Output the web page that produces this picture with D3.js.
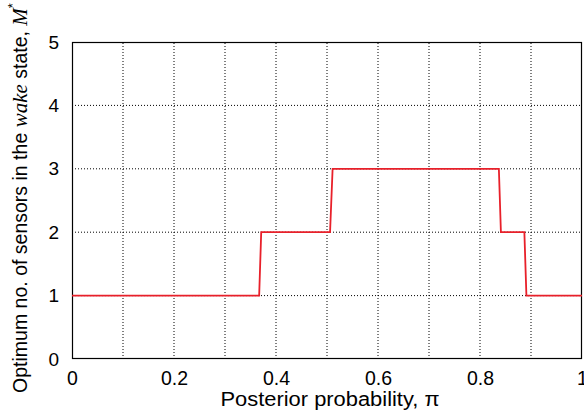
<!DOCTYPE html>
<html><head><meta charset="utf-8">
<script src="https://cdn.jsdelivr.net/npm/d3@7"></script>
<style>body{margin:0;background:#fff}svg{display:block}</style>
</head><body>
<svg id="c" width="584" height="417"></svg>
<script>
const piValues = [0, 0.367, 0.371, 0.506, 0.511, 0.837, 0.841, 0.887, 0.891, 1];
const mValues  = [1, 1, 2, 2, 3, 3, 2, 2, 1, 1];
const xTickLabels = [0, 0.2, 0.4, 0.6, 0.8, 1];
const yTickLabels = [0, 1, 2, 3, 4, 5];

const svg = d3.select("#c");
const L = 72, R = 582, T = 42, B = 359;
const x = d3.scaleLinear().domain([0, 1]).range([L, R]);
const y = d3.scaleLinear().domain([0, 5]).range([B, T]);
const font = "Liberation Sans, Arial, Helvetica, sans-serif";

// grid
const gx = d3.range(1, 10).map(i => i / 10);
svg.append("g").selectAll("line").data(gx).join("line")
  .attr("x1", d => x(d)).attr("x2", d => x(d)).attr("y1", B).attr("y2", T)
  .attr("stroke", "#000").attr("stroke-width", 1).attr("stroke-dasharray", "1,2");
svg.append("g").selectAll("line").data([1,2,3,4]).join("line")
  .attr("y1", d => y(d)).attr("y2", d => y(d)).attr("x1", L).attr("x2", R)
  .attr("stroke", "#000").attr("stroke-width", 1).attr("stroke-dasharray", "1,2");

// axes
const xAxis = d3.axisBottom(x).tickValues(xTickLabels).tickFormat(d3.format("")).tickSize(0).tickPadding(12);
const gxA = svg.append("g").attr("transform", `translate(0,${B})`).call(xAxis);
gxA.select(".domain").remove();
gxA.selectAll("text").attr("font-family", font).attr("font-size", 19.5).attr("fill", "#000").attr("dy", "0.7em");

const yAxis = d3.axisLeft(y).tickValues(yTickLabels).tickFormat(d3.format("d")).tickSize(0).tickPadding(13);
const gyA = svg.append("g").attr("transform", `translate(${L},0)`).call(yAxis);
gyA.select(".domain").remove();
gyA.selectAll("text").attr("font-family", font).attr("font-size", 19).attr("fill", "#000");

// frame
svg.append("rect").attr("x", L + 0.5).attr("y", T + 0.5).attr("width", R - L - 1).attr("height", B - T - 1)
  .attr("fill", "none").attr("stroke", "#000").attr("stroke-width", 1.2);

// line
const line = d3.line().x((d, i) => x(piValues[i])).y(d => y(d));
svg.append("path").datum(mValues).attr("d", line)
  .attr("fill", "none").attr("stroke", "#e8202a").attr("stroke-width", 1.8);

// x label
svg.append("text").attr("x", 330).attr("y", 406).attr("text-anchor", "middle")
  .attr("font-family", font).attr("font-size", 19.5).attr("fill", "#000")
  .attr("textLength", 219).attr("lengthAdjust", "spacingAndGlyphs")
  .text("Posterior probability, π");

// y label
const yl = svg.append("text").attr("transform", "translate(27,198) rotate(-90)")
  .attr("text-anchor", "middle").attr("font-family", font).attr("font-size", 19.5).attr("fill", "#000");
yl.append("tspan").text("Optimum no. of sensors in the ");
yl.append("tspan").attr("font-family", "Liberation Serif, serif").attr("font-style", "italic").attr("font-size", 21).text("wake");
yl.append("tspan").text(" state, ");
yl.append("tspan").attr("font-family", "Liberation Serif, serif").attr("font-style", "italic").attr("font-size", 21).text("M");
yl.append("tspan").attr("dy", -10).attr("font-size", 13).text("*");
</script>
</body></html>
